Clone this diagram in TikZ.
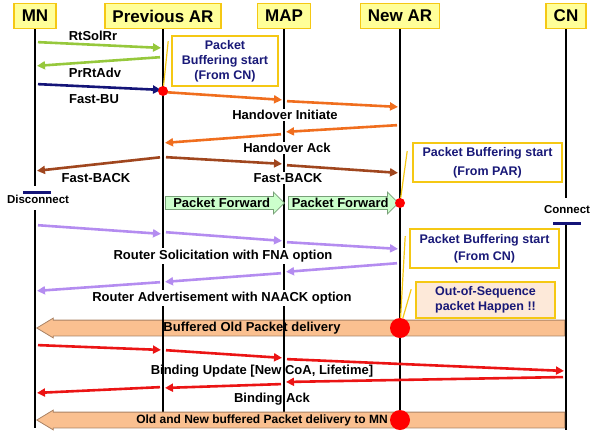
\documentclass[tikz,border=0pt]{standalone}
\usepackage{fontspec}
\setmainfont{Liberation Sans}
\usetikzlibrary{arrows.meta,shapes.arrows}

\definecolor{hdrfill}{RGB}{255,255,153}
\definecolor{gold}{RGB}{245,200,20}
\definecolor{notetext}{RGB}{25,25,120}
\definecolor{notefill}{RGB}{253,233,217}
\definecolor{grn}{RGB}{150,200,60}
\definecolor{navyb}{RGB}{20,20,120}
\definecolor{orng}{RGB}{240,110,30}
\definecolor{brwn}{RGB}{160,70,30}
\definecolor{purp}{RGB}{180,140,240}
\definecolor{redm}{RGB}{235,20,20}
\definecolor{peach}{RGB}{250,192,144}
\definecolor{peachline}{RGB}{170,130,100}
\definecolor{mint}{RGB}{204,255,204}
\definecolor{mintline}{RGB}{120,160,120}

\begin{document}
\begin{tikzpicture}[
    x=1pt, y=-1pt,
    font=\bfseries\fontsize{13}{15}\selectfont,
    entity/.style={draw=gold, fill=hdrfill, line width=1.6pt, inner xsep=7.5pt, minimum height=25pt, font=\bfseries\fontsize{17}{19}\selectfont},
    life/.style={draw=black, line width=2pt},
    msg/.style={line width=2.6pt, -{Triangle[length=8pt,width=8pt]}, shorten <=3pt, shorten >=2pt},
    lbl/.style={fill=white, inner sep=1.5pt},
    note/.style={draw=gold, fill=white, line width=1.6pt, align=center, text=notetext, font=\bfseries\fontsize{12.5}{15}\selectfont},
    callout/.style={draw=gold, line width=1.2pt},
    dot/.style={circle, fill=red, inner sep=0pt, minimum size=10pt},
    bigdot/.style={circle, fill=red, inner sep=0pt, minimum size=20pt},
    fwd/.style={single arrow, draw=mintline, fill=mint, line width=0.8pt, inner xsep=2pt, inner ysep=1.3pt, single arrow head extend=4.5pt, minimum width=12pt},
    bulk/.style={single arrow, shape border rotate=180, draw=peachline, fill=peach, line width=0.8pt, inner xsep=0pt, inner ysep=7.5pt, single arrow head extend=2pt, single arrow tip angle=62, minimum width=15pt},
    cut/.style={fill=navyb, minimum width=28pt, minimum height=3pt, inner sep=0pt},
    tag/.style={font=\bfseries\fontsize{11.5}{13}\selectfont, inner sep=1pt}
]
\useasboundingbox (0,0) rectangle (592,432);

\node[entity] (mn) at (35,16) {MN};
\node[entity] (par) at (163,16) {Previous AR};
\node[entity] (map) at (284,16) {MAP};
\node[entity] (nar) at (400,16) {New AR};
\node[entity] (cn) at (566,16) {CN};

\node[bulk, anchor=tip, minimum height=528pt] (oldbuf) at (36,328) {};

\draw[life] (mn.south) -- (mn |- 0,186);
\draw[life] (mn |- 0,210) -- (mn |- 0,428);
\draw[life] (par.south) -- (par |- 0,413);
\draw[life] (map.south) -- (map |- 0,413);
\draw[life] (nar.south) -- (nar |- 0,420);
\draw[life] (cn.south) -- (cn |- 0,198);
\draw[life] (cn |- 0,223) -- (cn |- 0,430);

\node[cut] (discut) at (37,192) {};
\node[tag] (dis) at (38,199.5) {Disconnect};
\node[cut] (concut) at (567,223) {};
\node[tag] (con) at (567,210) {Connect};

\node[bulk, anchor=tip, minimum height=528pt] (allbuf) at (36,420) {};
\node (oldtxt) at (252,328) {Buffered Old Packet delivery};
\node[font=\bfseries\fontsize{12}{14}\selectfont] (alltxt) at (262,420) {Old and New buffered Packet delivery to MN};

\node[lbl] (rtsol) at (93,36) {RtSolRr};
\node[lbl] (prrt) at (95,73) {PrRtAdv};
\node[lbl] (fbu) at (94,99) {Fast-BU};
\node[lbl] (hi) at (285,115) {Handover Initiate};
\node[lbl] (hack) at (287,148) {Handover Ack};
\node[lbl] (fback1) at (96,178) {Fast-BACK};
\node[lbl] (fback2) at (288,178) {Fast-BACK};
\node[lbl] (rs) at (223,256) {Router Solicitation with FNA option};
\node[lbl] (ra) at (222,298) {Router Advertisement with NAACK option};
\node (bu) at (262,371) {Binding Update [New CoA, Lifetime]};
\node (back) at (272,399) {Binding Ack};

\draw[msg, grn] (mn |- 0,42) -- (par |- 0,48);
\draw[msg, grn] (par |- 0,57) -- (mn |- 0,66);
\draw[msg, navyb] (mn |- 0,84) -- (par |- 0,90);

\draw[msg, orng] (par |- 0,92) -- (map |- 0,100);
\draw[msg, orng] (map |- 0,101) -- (nar |- 0,107);
\draw[msg, orng] (nar |- 0,125) -- (map |- 0,132);
\draw[msg, orng] (map |- 0,134) -- (par |- 0,143);

\draw[msg, brwn] (par |- 0,157) -- (mn |- 0,171);
\draw[msg, brwn] (par |- 0,157) -- (map |- 0,164);
\draw[msg, brwn] (map |- 0,165) -- (nar |- 0,173);

\node[fwd, anchor=tail, minimum height=119pt] (fwd1) at (165,203) {Packet Forward};
\node[fwd, anchor=tail, minimum height=110pt] (fwd2) at (288,203) {Packet Forward};

\draw[msg, purp] (mn |- 0,225) -- (par |- 0,234);
\draw[msg, purp] (par |- 0,232) -- (map |- 0,241);
\draw[msg, purp] (map |- 0,242) -- (nar |- 0,249);
\draw[msg, purp] (nar |- 0,263) -- (map |- 0,272);
\draw[msg, purp] (map |- 0,273) -- (par |- 0,282);
\draw[msg, purp] (par |- 0,282) -- (mn |- 0,291);

\draw[msg, redm] (mn |- 0,345) -- (par |- 0,350);
\draw[msg, redm] (par |- 0,350) -- (map |- 0,358);
\draw[msg, redm] (map |- 0,359) -- (cn |- 0,371);
\draw[msg, redm] (cn |- 0,377) -- (map |- 0,382);
\draw[msg, redm] (map |- 0,384) -- (par |- 0,388);
\draw[msg, redm] (par |- 0,387) -- (mn |- 0,393);

\node[note, minimum width=106pt, minimum height=50pt] (bufcn) at (225,61) {Packet\\Buffering start\\(From CN)};
\node[note, minimum width=149pt, minimum height=39pt] (bufpar) at (487.5,162.5) {Packet Buffering start\\[4pt](From PAR)};
\node[note, minimum width=149pt, minimum height=39pt] (bufcn2) at (484.5,248.5) {Packet Buffering start\\[2pt](From CN)};
\node[note, fill=notefill, minimum width=139pt, minimum height=36pt] (oos) at (485.5,300) {Out-of-Sequence\\packet Happen !!};

\node[dot] (fbudot) at (par |- 0,91) {};
\node[dot] (fwddot) at (nar |- 0,203) {};
\node[bigdot] (olddot) at (nar |- 0,328) {};
\node[bigdot] (alldot) at (nar |- 0,420) {};

\draw[callout] ([shift={(-3,6)}]bufcn.north west) -- (fbudot);
\draw[callout] ([shift={(-5,9)}]bufpar.north west) -- (fwddot);
\draw[callout] ([shift={(-4,8)}]bufcn2.north west) -- (olddot);
\draw[callout] ([shift={(-4,8)}]oos.north west) -- (olddot);
\end{tikzpicture}
\end{document}
